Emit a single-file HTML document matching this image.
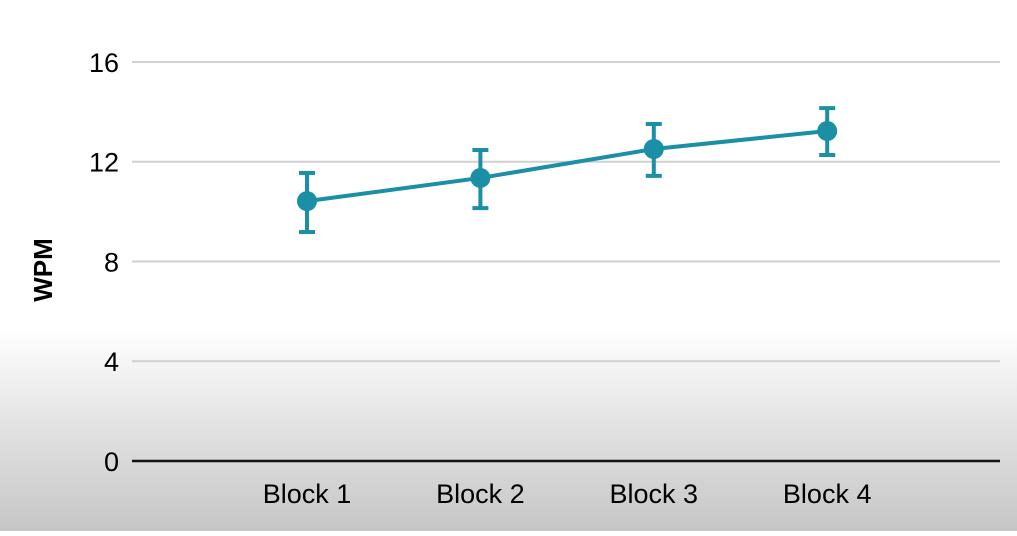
<!DOCTYPE html>
<html><head><meta charset="utf-8"><style>
html,body{margin:0;padding:0}
body{width:1017px;height:531px;overflow:hidden;background:linear-gradient(to bottom,#fff 0,#fff 330px,#e4e4e4 420px,#c6c6c6 531px);font-family:"Liberation Sans",sans-serif}
</style></head><body>
<svg id="chart" width="1017" height="531" xmlns="http://www.w3.org/2000/svg"></svg>
<script>
const categories=["Block 1","Block 2","Block 3","Block 4"];
const means=[10.42,11.35,12.51,13.23];
const upper=[11.55,12.47,13.51,14.15];
const lower=[9.18,10.14,11.43,12.27];
const yTicks=[0,4,8,12,16];
const NS="http://www.w3.org/2000/svg";
const svg=document.getElementById('chart');
const y=v=>461-v*24.94;
const x=i=>307+i*173.4;
function el(t,a,p){const e=document.createElementNS(NS,t);for(const k in a)e.setAttribute(k,a[k]);(p||svg).appendChild(e);return e;}
yTicks.forEach(t=>{
  const l=el('line',{x1:132,x2:1000,y1:y(t),y2:y(t),stroke:t===0?'#111':'#d0d0d0','stroke-width':t===0?2.5:2});
  
  
  const tx=el('text',{x:119,y:y(t)+10,'text-anchor':'end','font-size':27,fill:'#000'});
  tx.textContent=t;
  
  
});
categories.forEach((c,i)=>{
  const tx=el('text',{x:x(i),y:503,'text-anchor':'middle','font-size':27,fill:'#000'});
  tx.textContent=c;
  
  
});
const yt=el('text',{x:0,y:0,transform:'translate(52,270) rotate(-90)','text-anchor':'middle','font-size':26,fill:'#000','font-weight':'bold'});
yt.textContent='WPM';


const col='#1a8fa5';
const pl=el('polyline',{points:means.map((m,i)=>x(i)+','+y(m)).join(' '),fill:'none',stroke:col,'stroke-width':4});


means.forEach((m,i)=>{
  const g=el('g',{});
  
  
  el('line',{x1:x(i),x2:x(i),y1:y(upper[i]),y2:y(lower[i]),stroke:col,'stroke-width':4},g);
  el('line',{x1:x(i)-8,x2:x(i)+8,y1:y(upper[i]),y2:y(upper[i]),stroke:col,'stroke-width':4},g);
  el('line',{x1:x(i)-8,x2:x(i)+8,y1:y(lower[i]),y2:y(lower[i]),stroke:col,'stroke-width':4},g);
  const c=el('circle',{cx:x(i),cy:y(m),r:10,fill:col});
  
  
});
</script>
</body></html>
